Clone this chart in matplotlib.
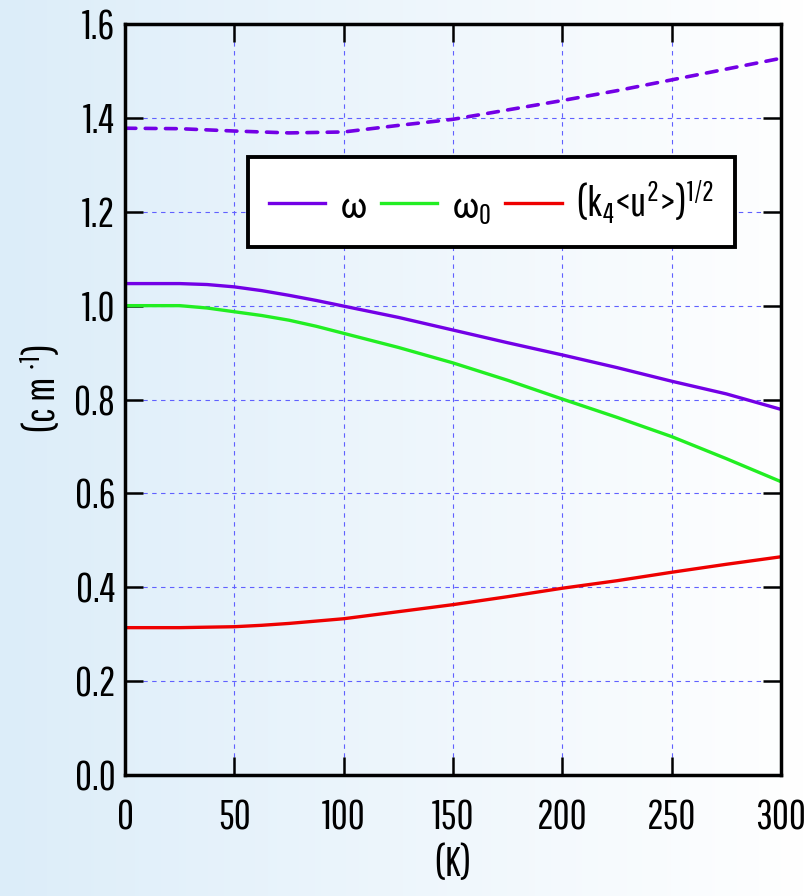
import numpy as np
import matplotlib
matplotlib.use('Agg')
import matplotlib.pyplot as plt
from matplotlib.colors import LinearSegmentedColormap
from matplotlib import font_manager as fm

# temperature grid (K) for the solid curves
temp = [0, 12.5, 25, 37.5, 50, 62.5, 75, 87.5, 100, 125, 150, 175, 200, 225, 250, 275, 300]
# omega (solid purple)
omega = [1.047, 1.047, 1.047, 1.045, 1.040, 1.032, 1.022, 1.011, 0.999, 0.975, 0.948,
         0.921, 0.895, 0.868, 0.839, 0.812, 0.779]
# omega_0 (green)
omega0 = [1.000, 1.000, 1.000, 0.995, 0.987, 0.979, 0.969, 0.956, 0.941, 0.911, 0.878,
          0.841, 0.801, 0.762, 0.721, 0.674, 0.625]
# (k4 <u^2>)^(1/2) (red)
k4u = [0.314, 0.314, 0.314, 0.315, 0.316, 0.319, 0.323, 0.328, 0.333, 0.348, 0.363,
       0.380, 0.398, 0.414, 0.432, 0.449, 0.465]

# dashed purple curve
temp_d = [0, 25, 50, 75, 100, 125, 150, 175, 200, 225, 250, 275, 300]
dashed = [1.378, 1.377, 1.372, 1.368, 1.370, 1.384, 1.397, 1.417, 1.437, 1.458, 1.481,
          1.504, 1.527]

xticks = [0, 50, 100, 150, 200, 250, 300]
yticks = [0.0, 0.2, 0.4, 0.6, 0.8, 1.0, 1.2, 1.4, 1.6]

# pick a narrow sans if one is around
have = set(f.name for f in fm.fontManager.ttflist)
narrow = [n for n in ['Pathway Gothic One', 'Liberation Sans Narrow', 'Arial Narrow',
                      'Sofia Sans Extra Condensed', 'Roboto Condensed',
                      'Liberation Sans'] if n in have]
main_font = narrow[0] if narrow else 'DejaVu Sans'

plt.rcParams['font.family'] = [main_font, 'DejaVu Sans']
plt.rcParams['mathtext.fontset'] = 'custom'
plt.rcParams['mathtext.rm'] = main_font
plt.rcParams['mathtext.it'] = main_font
plt.rcParams['mathtext.fallback'] = 'stixsans'

fig = plt.figure(figsize=(8.05, 8.96), dpi=100)

# background gradient
bg = fig.add_axes([0, 0, 1, 1], zorder=-10)
cmap = LinearSegmentedColormap.from_list('bg', ['#dcedf9', '#ffffff'])
grad = np.linspace(0, 1, 256).reshape(1, -1)
bg.imshow(grad, aspect='auto', cmap=cmap, extent=[0, 1, 0, 1])
bg.axis('off')

ax = fig.add_axes([0.1553, 0.1350, 0.8149, 0.8382])
ax.set_facecolor('none')

purple = '#7300e6'
ax.plot(temp, omega, color=purple, lw=2.4, label=r'$\mathrm{\omega}$')
ax.plot(temp, omega0, color='#22ee22', lw=2.4, label=r'$\mathrm{\omega}_0$')
ax.plot(temp, k4u, color='#ee0000', lw=2.4, label='(k$_4$<u$^2$>)$^{1/2}$')
ax.plot(temp_d, dashed, color=purple, lw=2.6, dashes=(3, 2.6), dash_capstyle='round')

ax.set_xlim(0, 300)
ax.set_ylim(0, 1.6)
ax.set_xticks(xticks)
ax.set_yticks(yticks)
ax.set_yticklabels(['%.1f' % v for v in yticks])

ax.grid(True, color='#6060ff', lw=0.8, ls=(0, (4, 4)))
ax.set_axisbelow(True)

for s in ax.spines.values():
    s.set_linewidth(2.5)
ax.tick_params(direction='in', length=13, width=1.8, labelsize=30,
               top=True, right=True)
ax.tick_params(axis='x', pad=17)
ax.tick_params(axis='y', pad=7)

ax.set_xlabel('(K)', fontsize=30, labelpad=6)
ax.set_ylabel('(c m $^{\\cdot 1}$)', fontsize=30)
ax.yaxis.set_label_coords(-0.095, 0.515)

leg = ax.legend(ncol=3, loc='center', bbox_to_anchor=(0.5587, 0.763), fontsize=30,
                frameon=True, fancybox=False, edgecolor='black', framealpha=1,
                handlelength=1.35, handletextpad=0.35, columnspacing=0.35,
                borderpad=0.5)
leg.get_frame().set_linewidth(2.8)

fig.savefig('out.png', dpi=100)
